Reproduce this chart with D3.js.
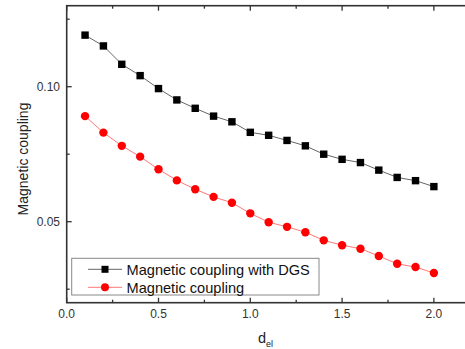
<html>
<script src="https://cdn.jsdelivr.net/npm/d3@7"></script>
<body style="margin:0;background:#fff"></body>
<script>
const width = 465;
const height = 349;

const del = [0.1,0.2,0.3,0.4,0.5,0.6,0.7,0.8,0.9,1.0,1.1,1.2,1.3,1.4,1.5,1.6,1.7,1.8,1.9,2.0];
const withDGS = [0.1191,0.1151,0.1083,0.1041,0.0993,0.0951,0.0920,0.0891,0.0870,0.0831,0.0820,0.0801,0.0781,0.0750,0.0731,0.0719,0.0691,0.0664,0.0652,0.0630];
const plain = [0.0891,0.0830,0.0781,0.0741,0.0694,0.0653,0.0620,0.0592,0.0570,0.0531,0.0498,0.0481,0.0461,0.0431,0.0413,0.0400,0.0373,0.0344,0.0332,0.0310];
const xMajor = [0, 0.5, 1.0, 1.5, 2.0];
const xMinor = [0.25, 0.75, 1.25, 1.75];
const yMajor = [0.05, 0.10];
const yMinor = [0.025, 0.075, 0.125];
const seriesNames = ['Magnetic coupling with DGS', 'Magnetic coupling'];

const pLeft = 66.7, pTop = 5.7, pRight = 470.6, pBottom = 302.7;

const x = d3.scaleLinear().domain([0, 2.2]).range([pLeft, pRight]);
const y = d3.scaleLinear().domain([0.02, 0.13]).range([pBottom, pTop]);

const svg = d3.select('body').append('svg')
    .attr('width', width)
    .attr('height', height)
    .style('font-family', 'Arial, "Liberation Sans", sans-serif');

const frame = '#333';

// ticks (inward, mirrored on top)
const g = svg.append('g').attr('stroke', frame).attr('stroke-width', 1.3);
xMajor.forEach(v => {
    g.append('line').attr('x1', x(v)).attr('x2', x(v)).attr('y1', pBottom).attr('y2', pBottom - 5);
    g.append('line').attr('x1', x(v)).attr('x2', x(v)).attr('y1', pTop).attr('y2', pTop + 5);
});
xMinor.forEach(v => {
    g.append('line').attr('x1', x(v)).attr('x2', x(v)).attr('y1', pBottom).attr('y2', pBottom - 3);
    g.append('line').attr('x1', x(v)).attr('x2', x(v)).attr('y1', pTop).attr('y2', pTop + 3);
});
yMajor.forEach(v => {
    g.append('line').attr('x1', pLeft).attr('x2', pLeft + 5).attr('y1', y(v)).attr('y2', y(v));
});
yMinor.forEach(v => {
    g.append('line').attr('x1', pLeft).attr('x2', pLeft + 3).attr('y1', y(v)).attr('y2', y(v));
});

svg.append('rect')
    .attr('x', pLeft).attr('y', pTop)
    .attr('width', pRight - pLeft).attr('height', pBottom - pTop)
    .attr('fill', 'none').attr('stroke', frame).attr('stroke-width', 1.6);

// tick labels
svg.selectAll('.xl').data(xMajor).enter().append('text')
    .attr('x', d => x(d)).attr('y', 318)
    .attr('text-anchor', 'middle').attr('font-size', 12).attr('fill', '#333')
    .text(d => d.toFixed(1));
svg.selectAll('.yl').data(yMajor).enter().append('text')
    .attr('x', 60).attr('y', d => y(d) + 4.5)
    .attr('text-anchor', 'end').attr('font-size', 12).attr('fill', '#333')
    .text(d => d.toFixed(2));

// axis titles
const xt = svg.append('text').attr('x', 258).attr('y', 343).attr('font-size', 14.5).attr('fill', '#222');
xt.append('tspan').text('d');
xt.append('tspan').attr('font-size', 9).attr('dy', 4).text('el');
svg.append('text')
    .attr('transform', 'translate(27.5,159) rotate(-90)')
    .attr('text-anchor', 'middle').attr('font-size', 14).attr('fill', '#222')
    .text('Magnetic coupling');

const line = d3.line().x((d, i) => x(del[i])).y(d => y(d));

// series
svg.append('path').datum(withDGS).attr('d', line)
    .attr('fill', 'none').attr('stroke', '#666').attr('stroke-width', 1);
svg.append('path').datum(plain).attr('d', line)
    .attr('fill', 'none').attr('stroke', '#f77').attr('stroke-width', 1);

svg.selectAll('.sq').data(withDGS).enter().append('rect')
    .attr('x', (d, i) => x(del[i]) - 3.7).attr('y', d => y(d) - 3.7)
    .attr('width', 7.4).attr('height', 7.4).attr('fill', '#000');
svg.selectAll('.ci').data(plain).enter().append('circle')
    .attr('cx', (d, i) => x(del[i])).attr('cy', d => y(d))
    .attr('r', 4.2).attr('fill', '#f00');

// legend
const lg = svg.append('g');
lg.append('rect').attr('x', 71.7).attr('y', 258.3).attr('width', 247.3).attr('height', 36.7)
    .attr('fill', '#fff').attr('stroke', '#888').attr('stroke-width', 1);
const ly = [269.3, 287.3];
lg.append('line').attr('x1', 88).attr('x2', 122).attr('y1', ly[0]).attr('y2', ly[0]).attr('stroke', '#666');
lg.append('rect').attr('x', 105 - 3.5).attr('y', ly[0] - 3.5).attr('width', 7).attr('height', 7).attr('fill', '#000');
lg.append('line').attr('x1', 88).attr('x2', 122).attr('y1', ly[1]).attr('y2', ly[1]).attr('stroke', '#f77');
lg.append('circle').attr('cx', 105).attr('cy', ly[1]).attr('r', 4).attr('fill', '#f00');
seriesNames.forEach((n, i) => {
    lg.append('text').attr('x', 126.5).attr('y', ly[i] + 5.2)
        .attr('font-size', 14.6).attr('fill', '#111').text(n);
});
</script>
</html>
